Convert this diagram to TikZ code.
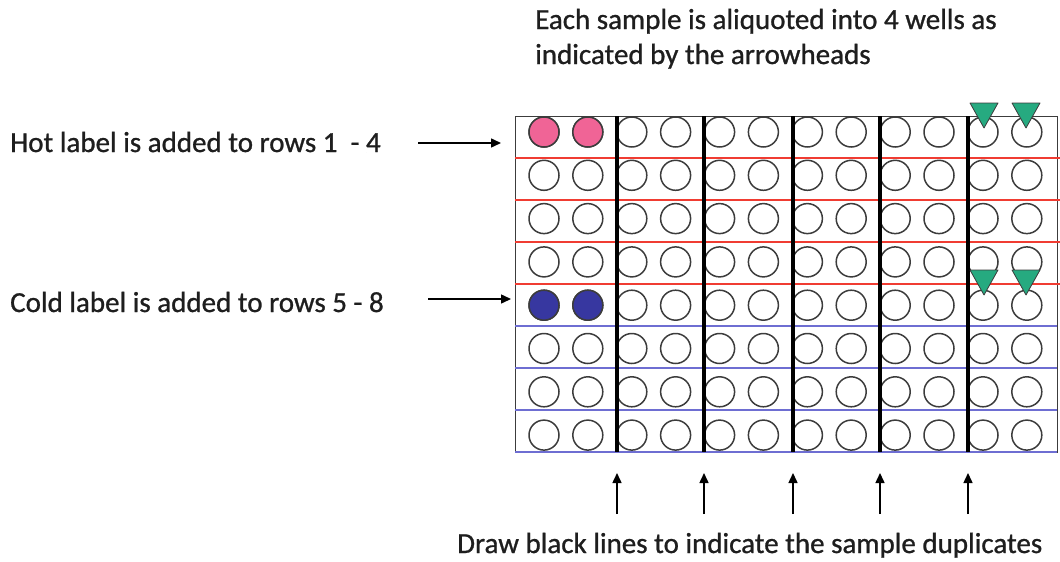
\documentclass[tikz,border=0pt]{standalone}
\usepackage{fontspec}
\setmainfont{Carlito}
\newfontfamily\labelfont{Carlito}[FakeBold=0.9]
\usetikzlibrary{arrows.meta}
\definecolor{hotpink}{RGB}{240,100,150}
\definecolor{coldblue}{RGB}{55,55,160}
\definecolor{hotline}{RGB}{240,60,50}
\definecolor{coldline}{RGB}{110,110,210}
\definecolor{arrowgreen}{RGB}{38,170,128}
\definecolor{rimgray}{RGB}{60,60,60}
\definecolor{inkgray}{RGB}{30,30,30}
\tikzset{
  lbl/.style={anchor=base west, inner sep=0pt, text=inkgray, font=\labelfont\fontsize{29}{34}\selectfont},
  well/.style={circle, draw=rimgray, line width=1.5pt, minimum size=30pt, inner sep=0pt},
  hotwell/.style={well, fill=hotpink},
  coldwell/.style={well, fill=coldblue},
  plateframe/.style={draw=rimgray, line width=1pt, minimum width=542pt, minimum height=336pt, inner sep=0pt},
  divider/.style={line width=3.5pt, black},
  hotrule/.style={hotline, line width=1.5pt},
  coldrule/.style={coldline, line width=1.5pt},
  pointer/.style={-{Triangle[length=10pt,width=9pt]}, line width=1.5pt, black},
  marker/.style={fill=arrowgreen, draw=rimgray, line width=0.8pt, line join=round},
}
\begin{document}
\begin{tikzpicture}[x=1pt,y=-1pt]
\useasboundingbox (0,0) rectangle (1060,562);

% plate outline
\node[plateframe, anchor=north west] (plate) at (515,116) {};

% row separators: red for the hot half, blue for the cold half
\foreach \r/\y in {1/158,2/200,3/242,4/284}
  \draw[hotrule] (515,\y) -- (1060,\y);
\foreach \r/\y in {5/326,6/368,7/410,8/452}
  \draw[coldrule] (515,\y) -- (1057,\y);

% wells: 8 rows x 12 columns in six duplicate pairs
\foreach \r in {0,...,7}{
  \foreach \g in {0,...,5}{
    \foreach \k in {0,1}{
      \pgfmathsetmacro{\cx}{544+87.8*\g+43.8*\k}
      \pgfmathsetmacro{\cy}{132+43.3*\r}
      \pgfmathtruncatemacro{\c}{2*\g+\k+1}
      \pgfmathtruncatemacro{\rr}{\r+1}
      \node[well] (w\rr-\c) at (\cx,\cy) {};
    }
  }
}
\node[hotwell] at (w1-1) {};
\node[hotwell] at (w1-2) {};
\node[coldwell] at (w5-1) {};
\node[coldwell] at (w5-2) {};

% thick dividers between duplicate pairs, with pointers below
\foreach \x/\n in {617/1,704/2,793/3,880/4,968/5}{
  \draw[divider] (\x,116) -- (\x,452);
  \coordinate (up\n) at (\x,473);
  \coordinate (dn\n) at (\x,514);
  \draw[pointer] (dn\n) -- (up\n);
}

% aliquot markers
\foreach \x/\yt in {984/103,1026/103,984/270,1026/270}
  \draw[marker] (\x-14,\yt) -- (\x+14,\yt) -- (\x,\yt+25) -- cycle;

% texts
\node[lbl] (top1) at (535,29) {Each sample is aliquoted into 4 wells as};
\node[lbl] (top2) at (535,64) {indicated by the arrowheads};
\node[lbl] (hot) at (10,152) {Hot label is added to rows 1 \ - 4};
\node[lbl] (cold) at (10,312) {Cold label is added to rows 5 - 8};
\node[lbl] (bottom) at (457,553) {Draw black lines to indicate the sample duplicates};

% label arrows
\coordinate (hotstart) at (418,143);
\coordinate (hotend) at (501,143);
\coordinate (coldstart) at (428,299);
\coordinate (coldend) at (511,299);
\draw[pointer] (hotstart) -- (hotend);
\draw[pointer] (coldstart) -- (coldend);
\end{tikzpicture}
\end{document}
